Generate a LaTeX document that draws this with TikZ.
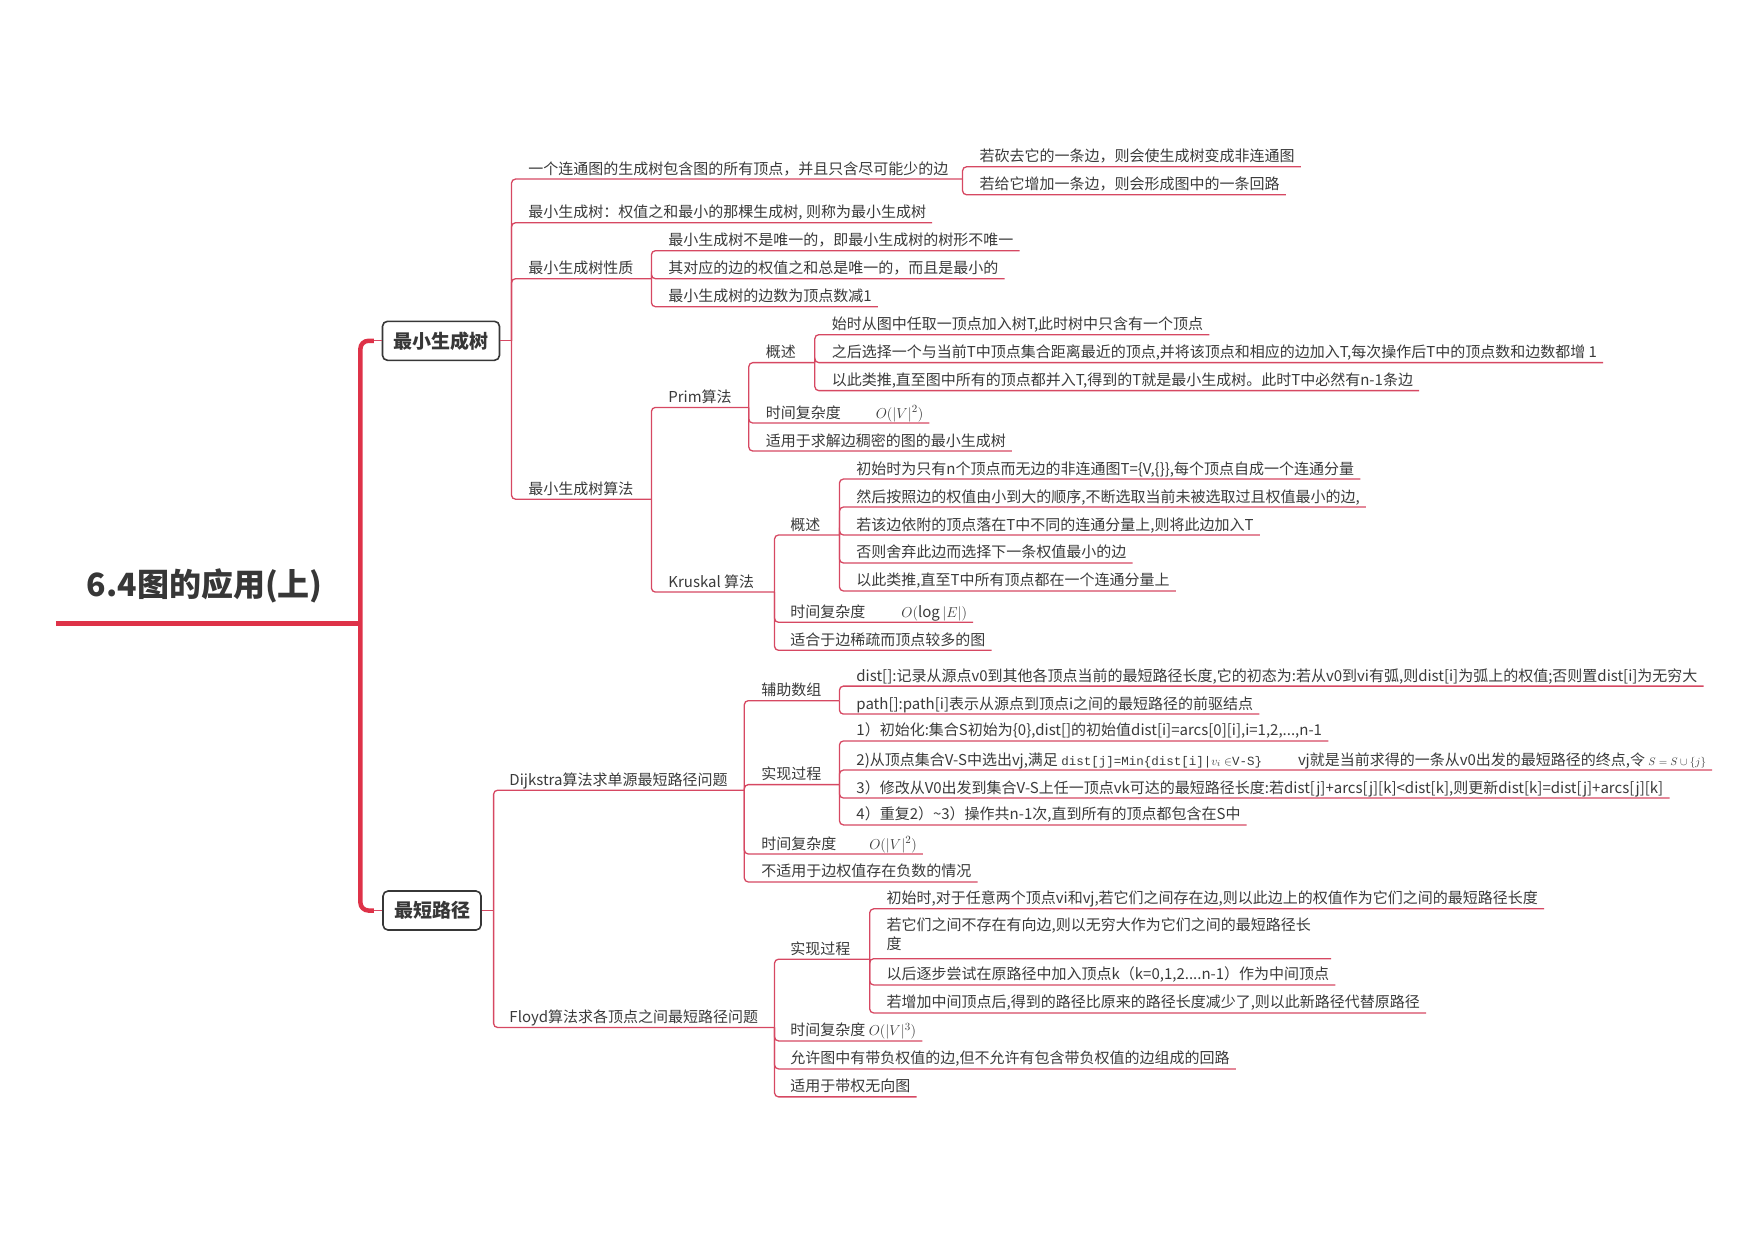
\documentclass[tikz,border=0pt]{standalone}
\usepackage{fontspec}
\setmainfont{Noto Sans CJK SC}
\newfontfamily\monof{Liberation Mono}
\definecolor{lnc}{RGB}{214,72,98}
\definecolor{barc}{RGB}{222,50,72}
\definecolor{txt}{RGB}{58,58,58}
\definecolor{boxc}{RGB}{55,55,55}
\newcommand\leafln[2]{\draw[lnk] (#1) |- ([xshift=6pt,yshift=-5pt]#2.base east);}
\newcommand\parln[2]{\draw[lnk] (#1) |- (#2);}
\begin{document}
\begin{tikzpicture}[x=1.1193pt,y=-1.1193pt,
  item/.style={anchor=base west, inner sep=0pt, yshift=5pt, text=txt, font=\fontsize{15}{19}\selectfont},
  lnk/.style={draw=lnc, line width=1.3pt, rounded corners=4pt},
  bar/.style={draw=barc, line width=4.5pt, rounded corners=8pt},
  topic/.style={draw=boxc, line width=1.6pt, rounded corners=5pt, text=boxc, font=\fontsize{19}{22}\selectfont\bfseries, minimum height=39pt, inner xsep=11pt, inner ysep=0pt}
]
\useasboundingbox (0,0) rectangle (1568,1108);
% root
\node[text=boxc, font=\fontsize{32}{36}\selectfont\bfseries, inner sep=0pt] (root) at (183,523) {6.4图的应用(上)};
\coordinate (rL) at (50,557);
\coordinate (bM) at (322,557);
\coordinate (bT) at (334,304.5);
\coordinate (bB) at (334,813.5);
\draw[bar] (rL) -- (bM);
\draw[bar] (bT) -| (bM) |- (bB);
% topics
\node[topic] (mst) at (394,304.5) {最小生成树};
\node[topic] (spt) at (386,813.5) {最短路径};
\draw[lnk] (bT) -- (mst.west);
\draw[lnk] (bB) -- (spt.west);

% ===== MST =====
\coordinate (jM) at (457,304.5);
\draw[lnk] (mst.east) -- (jM);
\node[item] (A1) at (472,160) {一个连通图的生成树包含图的所有顶点，并且只含尽可能少的边};
\coordinate (jA1) at (860,160);
\parln{jM}{jA1}
\node[item] (A1a) at (875,149) {若砍去它的一条边，则会使生成树变成非连通图};
\node[item] (A1b) at (875,174) {若给它增加一条边，则会形成图中的一条回路};
\leafln{jA1}{A1a}
\leafln{jA1}{A1b}
\node[item] (A2) at (472,199) {最小生成树：权值之和最小的那棵生成树, 则称为最小生成树};
\leafln{jM}{A2}
\node[item] (A3) at (472,249) {最小生成树性质};
\coordinate (jA3) at (582,249);
\parln{jM}{jA3}
\node[item] (A3a) at (597,224) {最小生成树不是唯一的，即最小生成树的树形不唯一};
\node[item] (A3b) at (597,249) {其对应的边的权值之和总是唯一的，而且是最小的};
\node[item] (A3c) at (597,274) {最小生成树的边数为顶点数减1};
\leafln{jA3}{A3a}
\leafln{jA3}{A3b}
\leafln{jA3}{A3c}
\node[item] (A4) at (472,446) {最小生成树算法};
\coordinate (jA4) at (582,446);
\parln{jM}{jA4}
% Prim
\node[item] (P) at (597,364) {Prim算法};
\coordinate (jP) at (669,364);
\parln{jA4}{jP}
\node[item] (P1) at (684,324) {概述};
\coordinate (jP1) at (728,324);
\parln{jP}{jP1}
\node[item] (P1a) at (743,299) {始时从图中任取一顶点加入树T,此时树中只含有一个顶点};
\node[item] (P1b) at (743,324) {之后选择一个与当前T中顶点集合距离最近的顶点,并将该顶点和相应的边加入T,每次操作后T中的顶点数和边数都增 1};
\node[item] (P1c) at (743,349) {以此类推,直至图中所有的顶点都并入T,得到的T就是最小生成树。此时T中必然有n-1条边};
\leafln{jP1}{P1a}
\leafln{jP1}{P1b}
\leafln{jP1}{P1c}
\node[item] (P2) at (684,378) {时间复杂度\hspace{35pt}$O(|V|^2)$};
\node[item] (P3) at (684,403) {适用于求解边稠密的图的最小生成树};
\leafln{jP}{P2}
\leafln{jP}{P3}
% Kruskal
\node[item] (K) at (597,529) {Kruskal 算法};
\coordinate (jK) at (692,529);
\parln{jA4}{jK}
\node[item] (K1) at (706,478) {概述};
\coordinate (jK1) at (750,478);
\parln{jK}{jK1}
\node[item] (K1a) at (765,428) {初始时为只有n个顶点而无边的非连通图T=\{V,\{\}\},每个顶点自成一个连通分量};
\node[item] (K1b) at (765,453) {然后按照边的权值由小到大的顺序,不断选取当前未被选取过且权值最小的边,};
\node[item] (K1c) at (765,478) {若该边依附的顶点落在T中不同的连通分量上,则将此边加入T};
\node[item] (K1d) at (765,503) {否则舍弃此边而选择下一条权值最小的边};
\node[item] (K1e) at (765,528) {以此类推,直至T中所有顶点都在一个连通分量上};
\leafln{jK1}{K1a}
\leafln{jK1}{K1b}
\leafln{jK1}{K1c}
\leafln{jK1}{K1d}
\leafln{jK1}{K1e}
\node[item] (K2) at (706,556) {时间复杂度\hspace{36pt}$O(\log|E|)$};
\node[item] (K3) at (706,581) {适合于边稀疏而顶点较多的图};
\leafln{jK}{K2}
\leafln{jK}{K3}

% ===== Shortest path =====
\coordinate (jS) at (441,813.5);
\draw[lnk] (spt.east) -- (jS);
\node[item] (D) at (455,706) {Dijkstra算法求单源最短路径问题};
\coordinate (jD) at (665,706);
\parln{jS}{jD}
\node[item] (D1) at (680,626) {辅助数组};
\coordinate (jD1) at (750,626);
\parln{jD}{jD1}
\node[item] (D1a) at (765,613) {dist[]:记录从源点v0到其他各顶点当前的最短路径长度,它的初态为:若从v0到vi有弧,则dist[i]为弧上的权值;否则置dist[i]为无穷大};
\node[item] (D1b) at (765,638) {path[]:path[i]表示从源点到顶点i之间的最短路径的前驱结点};
\leafln{jD1}{D1a}
\leafln{jD1}{D1b}
\node[item] (D2) at (680,701) {实现过程};
\coordinate (jD2) at (750,701);
\parln{jD}{jD2}
\node[item] (D2a) at (765,662) {1）初始化:集合S初始为\{0\},dist[]的初始值dist[i]=arcs[0][i],i=1,2,...,n-1};
\node[item] (D2b) at (765,688) {2)从顶点集合V-S中选出vj,满足 {\monof\fontsize{12.5}{13}\selectfont dist[j]=Min\{dist[i]|$v_i\in$V-S\}}\hspace{36pt}vj就是当前求得的一条从v0出发的最短路径的终点,令 {\fontsize{11}{12}\selectfont$S=S\cup\{j\}$}};
\node[item] (D2c) at (765,713) {3）修改从V0出发到集合V-S上任一顶点vk可达的最短路径长度:若dist[j]+arcs[j][k]<dist[k],则更新dist[k]=dist[j]+arcs[j][k]};
\node[item] (D2d) at (765,737) {4）重复2）\textasciitilde{}3）操作共n-1次,直到所有的顶点都包含在S中};
\leafln{jD2}{D2a}
\leafln{jD2}{D2b}
\leafln{jD2}{D2c}
\leafln{jD2}{D2d}
\node[item] (D3) at (680,763) {时间复杂度\hspace{33pt}$O(|V|^2)$};
\node[item] (D4) at (680,788) {不适用于边权值存在负数的情况};
\leafln{jD}{D3}
\leafln{jD}{D4}
% Floyd
\node[item] (F) at (455,918) {Floyd算法求各顶点之间最短路径问题};
\coordinate (jF) at (692,918);
\parln{jS}{jF}
\node[item] (F1) at (706,857) {实现过程};
\coordinate (jF1) at (777,857);
\parln{jF}{jF1}
\node[item] (F1a) at (792,812) {初始时,对于任意两个顶点vi和vj,若它们之间存在边,则以此边上的权值作为它们之间的最短路径长度};
\node[item] (F1b) at (792,836) {\begin{tabular}[t]{@{}l@{}}若它们之间不存在有向边,则以无穷大作为它们之间的最短路径长\\度\end{tabular}};
\node[item] (F1c) at (792,880) {以后逐步尝试在原路径中加入顶点k（k=0,1,2....n-1）作为中间顶点};
\node[item] (F1d) at (792,905) {若增加中间顶点后,得到的路径比原来的路径长度减少了,则以此新路径代替原路径};
\leafln{jF1}{F1a}
\draw[lnk] (jF1) |- ([xshift=20pt,yshift=-28pt]F1b.base east);
\leafln{jF1}{F1c}
\leafln{jF1}{F1d}
\node[item] (F2) at (706,930) {时间复杂度 $O(|V|^3)$};
\node[item] (F3) at (706,955) {允许图中有带负权值的边,但不允许有包含带负权值的边组成的回路};
\node[item] (F4) at (706,980) {适用于带权无向图};
\leafln{jF}{F2}
\leafln{jF}{F3}
\leafln{jF}{F4}
\end{tikzpicture}
\end{document}
